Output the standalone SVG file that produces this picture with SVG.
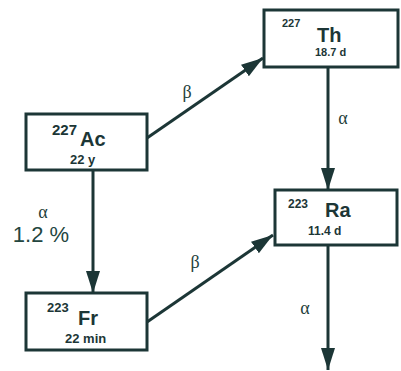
<svg xmlns="http://www.w3.org/2000/svg" width="401" height="371" viewBox="0 0 401 371">
  <style>
    .box { fill: #ffffff; stroke: #1c3636; stroke-width: 3; }
    .edge { stroke: #1c3636; stroke-width: 3; fill: none; }
    .sym { font-family: "Liberation Sans", Arial, sans-serif; font-weight: bold; font-size: 20px; fill: #1c3636; }
    .mass { font-family: "Liberation Sans", Arial, sans-serif; font-weight: bold; fill: #1c3636; }
    .half { font-family: "Liberation Sans", Arial, sans-serif; font-weight: bold; fill: #1c3636; }
    .greek { font-family: "Liberation Serif", "Times New Roman", serif; font-size: 18px; fill: #1f3f3c; text-anchor: middle; }
    .pct { font-family: "Liberation Sans", Arial, sans-serif; font-size: 22px; fill: #24463f; text-anchor: middle; }
  </style>
  <defs>
    <marker id="arrow" markerUnits="userSpaceOnUse" markerWidth="24" markerHeight="16" refX="22" refY="8" orient="auto">
      <path d="M0,1 L22,8 L0,15 Z" fill="#1c3636"/>
    </marker>
  </defs>
  <rect width="401" height="371" fill="#ffffff"/>

  <g id="connectors">
    <line class="edge" x1="147" y1="138" x2="263" y2="58" marker-end="url(#arrow)"/>
    <line class="edge" x1="93" y1="170" x2="93" y2="293" marker-end="url(#arrow)"/>
    <line class="edge" x1="147" y1="322" x2="273" y2="235" marker-end="url(#arrow)"/>
    <line class="edge" x1="328" y1="67" x2="328" y2="190" marker-end="url(#arrow)"/>
    <line class="edge" x1="328" y1="245" x2="328" y2="370" marker-end="url(#arrow)"/>
    <text class="greek" x="187" y="98">β</text>
    <text class="greek" x="195" y="268">β</text>
    <text class="greek" x="343" y="124">α</text>
    <text class="greek" x="43" y="218">α</text>
    <text class="pct" x="41" y="242">1.2 %</text>
    <text class="greek" x="305" y="314">α</text>
  </g>

  <g id="ac227">
    <rect class="box" x="26" y="114" width="121" height="56"/>
    <text class="mass" x="52" y="135" font-size="15">227</text>
    <text class="sym" x="80" y="146">Ac</text>
    <text class="half" x="70" y="164" font-size="13">22 y</text>
  </g>

  <g id="th227">
    <rect class="box" x="264" y="10" width="134" height="57"/>
    <text class="mass" x="282" y="27" font-size="11">227</text>
    <text class="sym" x="317" y="42">Th</text>
    <text class="half" x="315" y="56" font-size="11">18.7 d</text>
  </g>

  <g id="ra223">
    <rect class="box" x="275" y="190" width="122" height="55"/>
    <text class="mass" x="288" y="208" font-size="12">223</text>
    <text class="sym" x="325" y="217">Ra</text>
    <text class="half" x="308" y="235" font-size="12">11.4 d</text>
  </g>

  <g id="fr223">
    <rect class="box" x="26" y="293" width="121" height="57"/>
    <text class="mass" x="47" y="312" font-size="13">223</text>
    <text class="sym" x="78" y="325">Fr</text>
    <text class="half" x="65" y="343" font-size="13">22 min</text>
  </g>
</svg>
